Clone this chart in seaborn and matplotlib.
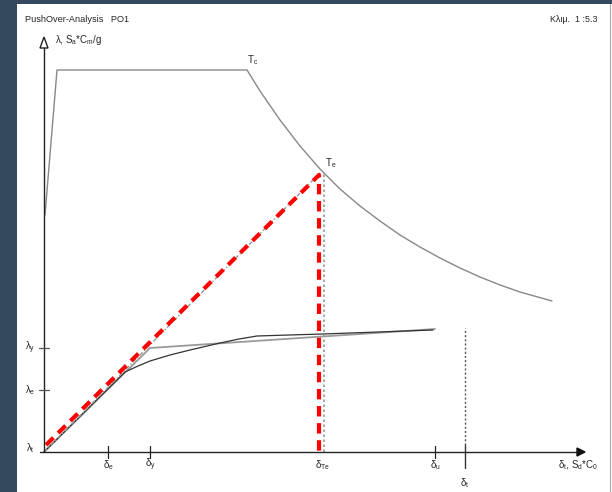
import matplotlib
matplotlib.use("Agg")
import matplotlib.pyplot as plt
import seaborn as sns
from matplotlib.patches import Polygon

sns.set_style("white")
plt.rcParams["font.family"] = ["Liberation Sans", "DejaVu Sans"]
plt.rcParams["mathtext.fontset"] = "custom"
plt.rcParams["mathtext.rm"] = "Liberation Sans"
plt.rcParams["mathtext.it"] = "Liberation Sans"

# response spectrum (ADRS), units measured from the origin
spec_x = [1, 13, 203, 216, 236, 256, 276, 296, 316, 336, 356, 376, 396, 416, 436,
          456, 476, 508]
spec_y = [237, 382, 382, 361, 332, 306, 283, 263, 246, 231, 217, 205, 194, 184, 175,
          167, 160, 151]

# pushover curve
push_x = [0, 81, 94, 106, 126, 146, 176, 195, 213, 245, 279, 389]
push_y = [0, 80, 86, 91, 97, 102, 109, 113, 116, 117, 118, 122]

# bilinear idealisation
bil_x = [0, 106, 391]
bil_y = [0, 104, 123]

# equivalent elastic line to Te
te_x, te_y = 279, 280
red_x = [2, 275, 275]
red_y = [7, 277, 0]

d_e, d_y, d_u, d_t = 64, 106, 391, 421
l_e, l_y = 62, 104

fig = plt.figure(figsize=(6.12, 4.92), dpi=100)
fig.patch.set_facecolor("#34495e")
ax = fig.add_axes([17 / 612, 0, 595 / 612, 488 / 492])
ax.set_facecolor("white")
ax.set_xlim(-27, 568)
ax.set_ylim(-40, 448)
ax.set_xticks([])
ax.set_yticks([])
for s in ax.spines.values():
    s.set_visible(False)

sns.lineplot(x=spec_x, y=spec_y, sort=False, estimator=None, color="#888888", lw=1.0, ax=ax)
sns.lineplot(x=bil_x, y=bil_y, sort=False, estimator=None, color="#9a9a9a", lw=1.3, ax=ax)
sns.lineplot(x=push_x, y=push_y, sort=False, estimator=None, color="#333333", lw=0.9, ax=ax)

# dotted construction lines
ax.plot([0, te_x - 3], [0, te_y - 1], color="#999999", lw=1.0, ls=(0, (3, 1.5, 1, 1.5)))
ax.plot([te_x + 1, te_x + 1], [0, te_y - 2], color="#999999", lw=1.2, ls=(0, (1.5, 1.5)))
ax.plot([d_t, d_t], [7, 124], color="#555555", lw=1.0, ls=(0, (1.5, 1.5)))
ax.plot([d_t, d_t], [-16, 7], color="#333333", lw=1.0)

# red dashed
ax.plot(red_x, red_y, color="#ff0000", lw=3, ls=(0, (2.5, 1.6)))

# axes
ax.plot([-4, 537], [0, 0], color="#222222", lw=1.0)
ax.plot([0, 0], [0, 404], color="#222222", lw=1.0)
ax.add_patch(Polygon([[0, 415], [-4, 404], [4, 404]], closed=True, facecolor="white",
                     edgecolor="#222222", lw=1.0, zorder=5))
ax.add_patch(Polygon([[541, 0], [533, 4], [533, -4]], closed=True, facecolor="#111111",
                     edgecolor="#111111", lw=1.0, zorder=5))

# ticks
for xv in [d_e, d_y, d_u]:
    ax.plot([xv, xv], [-6, 6], color="#222222", lw=0.9)
for yv in [l_e, l_y]:
    ax.plot([-5, 5], [yv, yv], color="#555555", lw=0.9)

fs = 7
ax.text(-14, l_y, "λ$_\\mathrm{y}$", fontsize=fs, ha="center", va="center")
ax.text(-14, l_e, "λ$_\\mathrm{e}$", fontsize=fs, ha="center", va="center")
ax.text(-14, 4, "λ$_\\mathrm{t}$", fontsize=fs, ha="center", va="center")
ax.text(d_e, -13, "δ$_\\mathrm{e}$", fontsize=fs, ha="center", va="center")
ax.text(d_y, -13, "δ$_\\mathrm{y}$", fontsize=fs, ha="center", va="center")
ax.text(te_x, -13, "δ$_\\mathrm{Te}$", fontsize=fs, ha="center", va="center")
ax.text(d_u, -13, "δ$_\\mathrm{u}$", fontsize=fs, ha="center", va="center")
ax.text(d_t, -31, "δ$_\\mathrm{t}$", fontsize=fs, ha="center", va="center")
ax.text(534, -13, "δ$_\\mathrm{t}$, S$_\\mathrm{d}$*C$_\\mathrm{0}$", fontsize=fs,
        ha="center", va="center")
ax.text(203, 385, "T$_\\mathrm{c}$", fontsize=fs, ha="left", va="bottom")
ax.text(te_x + 2, te_y + 2, "T$_\\mathrm{e}$", fontsize=fs, ha="left", va="bottom")
ax.text(11, 412, "λ, S$_\\mathrm{a}$*C$_\\mathrm{m}$/g", fontsize=fs, ha="left", va="center")

ax.text(-19, 432, "PushOver-Analysis   PO1", fontsize=6.6, ha="left", va="center")
ax.text(554, 433, "Κλιμ.  1 :5.3", fontsize=6.4, ha="right", va="center")

# thin panel border at right
ax.plot([566, 566], [-40, 448], color="#aaaaaa", lw=0.8)

fig.savefig("out.png", dpi=100, facecolor=fig.get_facecolor())
